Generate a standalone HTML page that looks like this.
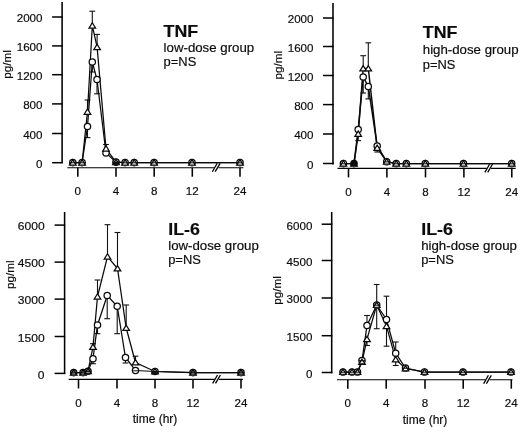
<!DOCTYPE html>
<html><head><meta charset="utf-8"><title>TNF and IL-6</title>
<style>html,body{margin:0;padding:0;background:#fff}svg{display:block;filter:grayscale(1);will-change:transform}text{font-family:"Liberation Sans", sans-serif;fill:#0c0c0c;stroke:#0c0c0c;stroke-width:0.18px}</style>
</head><body>
<svg width="520" height="427" viewBox="0 0 520 427">
<rect width="520" height="427" fill="#fff"/>
<line x1="62.10" y1="2.00" x2="62.10" y2="163.20" stroke="#000" stroke-width="1.55"/>
<line x1="52.10" y1="17.00" x2="62.70" y2="17.00" stroke="#000" stroke-width="1.5"/>
<text x="42.50" y="22.35" font-size="11.6" text-anchor="end" font-weight="normal" >2000</text>
<line x1="52.10" y1="45.90" x2="62.70" y2="45.90" stroke="#000" stroke-width="1.5"/>
<text x="42.50" y="51.25" font-size="11.6" text-anchor="end" font-weight="normal" >1600</text>
<line x1="52.10" y1="74.70" x2="62.70" y2="74.70" stroke="#000" stroke-width="1.5"/>
<text x="42.50" y="80.05" font-size="11.6" text-anchor="end" font-weight="normal" >1200</text>
<line x1="52.10" y1="103.90" x2="62.70" y2="103.90" stroke="#000" stroke-width="1.5"/>
<text x="42.50" y="109.25" font-size="11.6" text-anchor="end" font-weight="normal" >800</text>
<line x1="52.10" y1="133.50" x2="62.70" y2="133.50" stroke="#000" stroke-width="1.5"/>
<text x="42.50" y="138.85" font-size="11.6" text-anchor="end" font-weight="normal" >400</text>
<line x1="52.10" y1="162.70" x2="62.70" y2="162.70" stroke="#000" stroke-width="1.5"/>
<text x="42.50" y="168.05" font-size="11.6" text-anchor="end" font-weight="normal" >0</text>
<text x="11.30" y="64.50" font-size="11.7" text-anchor="middle" font-weight="normal" transform="rotate(-90 11.30 64.50)">pg/ml</text>
<line x1="67.30" y1="167.70" x2="243.40" y2="167.70" stroke="#000" stroke-width="1.15"/>
<line x1="77.80" y1="167.70" x2="77.80" y2="176.70" stroke="#000" stroke-width="1.55"/>
<text x="77.80" y="195.00" font-size="11.6" text-anchor="middle" font-weight="normal" >0</text>
<line x1="116.00" y1="167.70" x2="116.00" y2="176.70" stroke="#000" stroke-width="1.55"/>
<text x="116.00" y="195.00" font-size="11.6" text-anchor="middle" font-weight="normal" >4</text>
<line x1="154.20" y1="167.70" x2="154.20" y2="176.70" stroke="#000" stroke-width="1.55"/>
<text x="154.20" y="195.00" font-size="11.6" text-anchor="middle" font-weight="normal" >8</text>
<line x1="192.30" y1="167.70" x2="192.30" y2="176.70" stroke="#000" stroke-width="1.55"/>
<text x="192.30" y="195.00" font-size="11.6" text-anchor="middle" font-weight="normal" >12</text>
<line x1="240.00" y1="167.70" x2="240.00" y2="176.70" stroke="#000" stroke-width="1.55"/>
<text x="240.00" y="195.00" font-size="11.6" text-anchor="middle" font-weight="normal" >24</text>
<rect x="214.10" y="166.20" width="4.4" height="3" fill="#fff"/>
<line x1="212.40" y1="171.70" x2="217.20" y2="163.30" stroke="#000" stroke-width="1.3"/>
<line x1="215.20" y1="171.70" x2="220.10" y2="163.30" stroke="#000" stroke-width="1.3"/>
<line x1="87.50" y1="111.80" x2="87.50" y2="100.00" stroke="#111" stroke-width="1.1"/>
<line x1="84.60" y1="100.00" x2="90.40" y2="100.00" stroke="#111" stroke-width="1.1"/>
<line x1="87.50" y1="126.50" x2="87.50" y2="137.60" stroke="#111" stroke-width="1.1"/>
<line x1="84.60" y1="137.60" x2="90.40" y2="137.60" stroke="#111" stroke-width="1.1"/>
<line x1="92.30" y1="25.70" x2="92.30" y2="11.20" stroke="#111" stroke-width="1.1"/>
<line x1="89.40" y1="11.20" x2="95.20" y2="11.20" stroke="#111" stroke-width="1.1"/>
<line x1="97.10" y1="47.20" x2="97.10" y2="34.40" stroke="#111" stroke-width="1.1"/>
<line x1="94.20" y1="34.40" x2="100.00" y2="34.40" stroke="#111" stroke-width="1.1"/>
<line x1="97.00" y1="79.50" x2="97.00" y2="93.80" stroke="#111" stroke-width="1.1"/>
<line x1="94.10" y1="93.80" x2="99.90" y2="93.80" stroke="#111" stroke-width="1.1"/>
<line x1="106.00" y1="148.60" x2="106.00" y2="144.50" stroke="#111" stroke-width="1.1"/>
<line x1="103.10" y1="144.50" x2="108.90" y2="144.50" stroke="#111" stroke-width="1.1"/>
<line x1="92.30" y1="62.00" x2="92.30" y2="72.00" stroke="#111" stroke-width="1.1"/>
<line x1="89.40" y1="72.00" x2="95.20" y2="72.00" stroke="#111" stroke-width="1.1"/>
<polyline points="72.80,162.60 82.10,162.60 87.50,111.80 92.30,25.70 97.10,47.20 106.00,148.60 116.00,162.10 125.10,162.60 134.20,162.60 154.10,162.60 192.00,162.60 240.00,162.60" fill="none" stroke="#0a0a0a" stroke-width="1.25"/>
<polyline points="72.80,162.60 82.10,162.60 87.50,126.50 92.30,62.00 97.00,79.50 106.00,153.00 116.00,162.10 125.10,162.60 134.20,162.60 154.10,162.60 192.00,162.60 240.00,162.60" fill="none" stroke="#0a0a0a" stroke-width="1.25"/>
<circle cx="72.80" cy="162.60" r="3.15" fill="#fff" stroke="#0a0a0a" stroke-width="1.25"/>
<circle cx="82.10" cy="162.60" r="3.15" fill="#fff" stroke="#0a0a0a" stroke-width="1.25"/>
<circle cx="87.50" cy="126.50" r="3.15" fill="#fff" stroke="#0a0a0a" stroke-width="1.25"/>
<circle cx="92.30" cy="62.00" r="3.15" fill="#fff" stroke="#0a0a0a" stroke-width="1.25"/>
<circle cx="97.00" cy="79.50" r="3.15" fill="#fff" stroke="#0a0a0a" stroke-width="1.25"/>
<circle cx="106.00" cy="153.00" r="3.15" fill="#fff" stroke="#0a0a0a" stroke-width="1.25"/>
<circle cx="116.00" cy="162.10" r="3.15" fill="#fff" stroke="#0a0a0a" stroke-width="1.25"/>
<circle cx="125.10" cy="162.60" r="3.15" fill="#fff" stroke="#0a0a0a" stroke-width="1.25"/>
<circle cx="134.20" cy="162.60" r="3.15" fill="#fff" stroke="#0a0a0a" stroke-width="1.25"/>
<circle cx="154.10" cy="162.60" r="3.15" fill="#fff" stroke="#0a0a0a" stroke-width="1.25"/>
<circle cx="192.00" cy="162.60" r="3.15" fill="#fff" stroke="#0a0a0a" stroke-width="1.25"/>
<circle cx="240.00" cy="162.60" r="3.15" fill="#fff" stroke="#0a0a0a" stroke-width="1.25"/>
<polygon points="72.80,159.68 69.50,165.08 76.10,165.08" fill="#fff" stroke="#0a0a0a" stroke-width="1.25"/>
<polygon points="82.10,159.68 78.80,165.08 85.40,165.08" fill="#fff" stroke="#0a0a0a" stroke-width="1.25"/>
<polygon points="87.50,108.88 84.20,114.28 90.80,114.28" fill="#fff" stroke="#0a0a0a" stroke-width="1.25"/>
<polygon points="92.30,22.78 89.00,28.18 95.60,28.18" fill="#fff" stroke="#0a0a0a" stroke-width="1.25"/>
<polygon points="97.10,44.28 93.80,49.68 100.40,49.68" fill="#fff" stroke="#0a0a0a" stroke-width="1.25"/>
<polygon points="106.00,145.68 102.70,151.08 109.30,151.08" fill="#fff" stroke="#0a0a0a" stroke-width="1.25"/>
<polygon points="116.00,159.18 112.70,164.58 119.30,164.58" fill="#fff" stroke="#0a0a0a" stroke-width="1.25"/>
<polygon points="125.10,159.68 121.80,165.08 128.40,165.08" fill="#fff" stroke="#0a0a0a" stroke-width="1.25"/>
<polygon points="134.20,159.68 130.90,165.08 137.50,165.08" fill="#fff" stroke="#0a0a0a" stroke-width="1.25"/>
<polygon points="154.10,159.68 150.80,165.08 157.40,165.08" fill="#fff" stroke="#0a0a0a" stroke-width="1.25"/>
<polygon points="192.00,159.68 188.70,165.08 195.30,165.08" fill="#fff" stroke="#0a0a0a" stroke-width="1.25"/>
<polygon points="240.00,159.68 236.70,165.08 243.30,165.08" fill="#fff" stroke="#0a0a0a" stroke-width="1.25"/>
<line x1="69.50" y1="162.80" x2="76.10" y2="162.80" stroke="#0a0a0a" stroke-width="1.0"/>
<line x1="70.60" y1="165.50" x2="75.00" y2="165.50" stroke="#333" stroke-width="1.0"/>
<line x1="78.80" y1="162.80" x2="85.40" y2="162.80" stroke="#0a0a0a" stroke-width="1.0"/>
<line x1="79.90" y1="165.50" x2="84.30" y2="165.50" stroke="#333" stroke-width="1.0"/>
<line x1="112.70" y1="162.30" x2="119.30" y2="162.30" stroke="#0a0a0a" stroke-width="1.0"/>
<line x1="113.80" y1="165.00" x2="118.20" y2="165.00" stroke="#333" stroke-width="1.0"/>
<path d="M112.85,162.10 A3.15,3.15 0 0 0 119.15,162.10 Z" fill="#111" stroke="#111" stroke-width="1"/>
<line x1="121.80" y1="162.80" x2="128.40" y2="162.80" stroke="#0a0a0a" stroke-width="1.0"/>
<line x1="122.90" y1="165.50" x2="127.30" y2="165.50" stroke="#333" stroke-width="1.0"/>
<line x1="130.90" y1="162.80" x2="137.50" y2="162.80" stroke="#0a0a0a" stroke-width="1.0"/>
<line x1="132.00" y1="165.50" x2="136.40" y2="165.50" stroke="#333" stroke-width="1.0"/>
<line x1="150.80" y1="162.80" x2="157.40" y2="162.80" stroke="#0a0a0a" stroke-width="1.0"/>
<line x1="151.90" y1="165.50" x2="156.30" y2="165.50" stroke="#333" stroke-width="1.0"/>
<line x1="188.70" y1="162.80" x2="195.30" y2="162.80" stroke="#0a0a0a" stroke-width="1.0"/>
<line x1="189.80" y1="165.50" x2="194.20" y2="165.50" stroke="#333" stroke-width="1.0"/>
<line x1="236.70" y1="162.80" x2="243.30" y2="162.80" stroke="#0a0a0a" stroke-width="1.0"/>
<line x1="237.80" y1="165.50" x2="242.20" y2="165.50" stroke="#333" stroke-width="1.0"/>
<text x="163.60" y="36.80" font-size="17" text-anchor="start" font-weight="bold" textLength="34.60" lengthAdjust="spacingAndGlyphs" >TNF</text>
<text x="163.60" y="51.80" font-size="12.3" text-anchor="start" font-weight="normal" textLength="90.58" lengthAdjust="spacingAndGlyphs" >low-dose group</text>
<text x="163.60" y="65.50" font-size="12.3" text-anchor="start" font-weight="normal" textLength="32.67" lengthAdjust="spacingAndGlyphs" >p=NS</text>
<line x1="333.00" y1="3.00" x2="333.00" y2="164.40" stroke="#000" stroke-width="1.55"/>
<line x1="323.00" y1="18.00" x2="333.60" y2="18.00" stroke="#000" stroke-width="1.5"/>
<text x="313.50" y="23.35" font-size="11.6" text-anchor="end" font-weight="normal" >2000</text>
<line x1="323.00" y1="46.50" x2="333.60" y2="46.50" stroke="#000" stroke-width="1.5"/>
<text x="313.50" y="51.85" font-size="11.6" text-anchor="end" font-weight="normal" >1600</text>
<line x1="323.00" y1="75.50" x2="333.60" y2="75.50" stroke="#000" stroke-width="1.5"/>
<text x="313.50" y="80.85" font-size="11.6" text-anchor="end" font-weight="normal" >1200</text>
<line x1="323.00" y1="104.60" x2="333.60" y2="104.60" stroke="#000" stroke-width="1.5"/>
<text x="313.50" y="109.95" font-size="11.6" text-anchor="end" font-weight="normal" >800</text>
<line x1="323.00" y1="134.00" x2="333.60" y2="134.00" stroke="#000" stroke-width="1.5"/>
<text x="313.50" y="139.35" font-size="11.6" text-anchor="end" font-weight="normal" >400</text>
<line x1="323.00" y1="163.50" x2="333.60" y2="163.50" stroke="#000" stroke-width="1.5"/>
<text x="313.50" y="168.85" font-size="11.6" text-anchor="end" font-weight="normal" >0</text>
<text x="282.20" y="65.20" font-size="11.7" text-anchor="middle" font-weight="normal" transform="rotate(-90 282.20 65.20)">pg/ml</text>
<line x1="337.50" y1="168.40" x2="515.60" y2="168.40" stroke="#000" stroke-width="1.15"/>
<line x1="348.50" y1="168.40" x2="348.50" y2="177.40" stroke="#000" stroke-width="1.55"/>
<text x="348.50" y="195.50" font-size="11.6" text-anchor="middle" font-weight="normal" >0</text>
<line x1="386.90" y1="168.40" x2="386.90" y2="177.40" stroke="#000" stroke-width="1.55"/>
<text x="386.90" y="195.50" font-size="11.6" text-anchor="middle" font-weight="normal" >4</text>
<line x1="425.50" y1="168.40" x2="425.50" y2="177.40" stroke="#000" stroke-width="1.55"/>
<text x="425.50" y="195.50" font-size="11.6" text-anchor="middle" font-weight="normal" >8</text>
<line x1="463.90" y1="168.40" x2="463.90" y2="177.40" stroke="#000" stroke-width="1.55"/>
<text x="463.90" y="195.50" font-size="11.6" text-anchor="middle" font-weight="normal" >12</text>
<line x1="511.80" y1="168.40" x2="511.80" y2="177.40" stroke="#000" stroke-width="1.55"/>
<text x="511.80" y="195.50" font-size="11.6" text-anchor="middle" font-weight="normal" >24</text>
<rect x="486.60" y="166.90" width="4.4" height="3" fill="#fff"/>
<line x1="484.90" y1="172.40" x2="489.70" y2="164.00" stroke="#000" stroke-width="1.3"/>
<line x1="487.70" y1="172.40" x2="492.60" y2="164.00" stroke="#000" stroke-width="1.3"/>
<line x1="358.20" y1="133.90" x2="358.20" y2="140.60" stroke="#111" stroke-width="1.1"/>
<line x1="355.30" y1="140.60" x2="361.10" y2="140.60" stroke="#111" stroke-width="1.1"/>
<line x1="363.20" y1="68.50" x2="363.20" y2="55.70" stroke="#111" stroke-width="1.1"/>
<line x1="360.30" y1="55.70" x2="366.10" y2="55.70" stroke="#111" stroke-width="1.1"/>
<line x1="368.30" y1="68.50" x2="368.30" y2="42.80" stroke="#111" stroke-width="1.1"/>
<line x1="365.40" y1="42.80" x2="371.20" y2="42.80" stroke="#111" stroke-width="1.1"/>
<line x1="368.30" y1="86.60" x2="368.30" y2="98.90" stroke="#111" stroke-width="1.1"/>
<line x1="365.40" y1="98.90" x2="371.20" y2="98.90" stroke="#111" stroke-width="1.1"/>
<line x1="363.20" y1="77.00" x2="363.20" y2="93.00" stroke="#111" stroke-width="1.1"/>
<line x1="360.30" y1="93.00" x2="366.10" y2="93.00" stroke="#111" stroke-width="1.1"/>
<line x1="377.20" y1="148.00" x2="377.20" y2="152.00" stroke="#111" stroke-width="1.1"/>
<line x1="374.30" y1="152.00" x2="380.10" y2="152.00" stroke="#111" stroke-width="1.1"/>
<polyline points="343.40,163.60 354.00,163.60 358.20,133.90 363.20,68.50 368.30,68.50 377.20,148.00 386.70,161.70 396.20,163.60 406.30,163.60 425.30,163.60 463.50,163.60 511.70,163.60" fill="none" stroke="#0a0a0a" stroke-width="1.45"/>
<polyline points="343.40,163.60 354.00,163.60 358.20,129.50 363.20,77.00 368.30,86.60 377.20,145.90 386.70,161.70 396.20,163.60 406.30,163.60 425.30,163.60 463.50,163.60 511.70,163.60" fill="none" stroke="#0a0a0a" stroke-width="1.45"/>
<circle cx="343.40" cy="163.60" r="3.15" fill="#fff" stroke="#0a0a0a" stroke-width="1.25"/>
<circle cx="354.00" cy="163.60" r="3.15" fill="#1a1a1a" stroke="#0a0a0a" stroke-width="1.25"/>
<circle cx="358.20" cy="129.50" r="3.15" fill="#fff" stroke="#0a0a0a" stroke-width="1.25"/>
<circle cx="363.20" cy="77.00" r="3.15" fill="#fff" stroke="#0a0a0a" stroke-width="1.25"/>
<circle cx="368.30" cy="86.60" r="3.15" fill="#fff" stroke="#0a0a0a" stroke-width="1.25"/>
<circle cx="377.20" cy="145.90" r="3.15" fill="#fff" stroke="#0a0a0a" stroke-width="1.25"/>
<circle cx="386.70" cy="161.70" r="3.15" fill="#fff" stroke="#0a0a0a" stroke-width="1.25"/>
<circle cx="396.20" cy="163.60" r="3.15" fill="#fff" stroke="#0a0a0a" stroke-width="1.25"/>
<circle cx="406.30" cy="163.60" r="3.15" fill="#fff" stroke="#0a0a0a" stroke-width="1.25"/>
<circle cx="425.30" cy="163.60" r="3.15" fill="#fff" stroke="#0a0a0a" stroke-width="1.25"/>
<circle cx="463.50" cy="163.60" r="3.15" fill="#fff" stroke="#0a0a0a" stroke-width="1.25"/>
<circle cx="511.70" cy="163.60" r="3.15" fill="#fff" stroke="#0a0a0a" stroke-width="1.25"/>
<polygon points="343.40,160.68 340.10,166.08 346.70,166.08" fill="#fff" stroke="#0a0a0a" stroke-width="1.25"/>
<polygon points="354.00,160.68 350.70,166.08 357.30,166.08" fill="none" stroke="#0a0a0a" stroke-width="1.25"/>
<polygon points="358.20,130.98 354.90,136.38 361.50,136.38" fill="#fff" stroke="#0a0a0a" stroke-width="1.25"/>
<polygon points="363.20,65.58 359.90,70.98 366.50,70.98" fill="#fff" stroke="#0a0a0a" stroke-width="1.25"/>
<polygon points="368.30,65.58 365.00,70.98 371.60,70.98" fill="#fff" stroke="#0a0a0a" stroke-width="1.25"/>
<polygon points="377.20,145.08 373.90,150.48 380.50,150.48" fill="#fff" stroke="#0a0a0a" stroke-width="1.25"/>
<polygon points="386.70,158.78 383.40,164.18 390.00,164.18" fill="#fff" stroke="#0a0a0a" stroke-width="1.25"/>
<polygon points="396.20,160.68 392.90,166.08 399.50,166.08" fill="#fff" stroke="#0a0a0a" stroke-width="1.25"/>
<polygon points="406.30,160.68 403.00,166.08 409.60,166.08" fill="#fff" stroke="#0a0a0a" stroke-width="1.25"/>
<polygon points="425.30,160.68 422.00,166.08 428.60,166.08" fill="#fff" stroke="#0a0a0a" stroke-width="1.25"/>
<polygon points="463.50,160.68 460.20,166.08 466.80,166.08" fill="#fff" stroke="#0a0a0a" stroke-width="1.25"/>
<polygon points="511.70,160.68 508.40,166.08 515.00,166.08" fill="#fff" stroke="#0a0a0a" stroke-width="1.25"/>
<line x1="340.10" y1="163.80" x2="346.70" y2="163.80" stroke="#0a0a0a" stroke-width="1.0"/>
<line x1="341.20" y1="166.50" x2="345.60" y2="166.50" stroke="#333" stroke-width="1.0"/>
<line x1="350.70" y1="163.80" x2="357.30" y2="163.80" stroke="#0a0a0a" stroke-width="1.0"/>
<line x1="351.80" y1="166.50" x2="356.20" y2="166.50" stroke="#333" stroke-width="1.0"/>
<line x1="383.40" y1="161.90" x2="390.00" y2="161.90" stroke="#0a0a0a" stroke-width="1.0"/>
<line x1="384.50" y1="164.60" x2="388.90" y2="164.60" stroke="#333" stroke-width="1.0"/>
<line x1="392.90" y1="163.80" x2="399.50" y2="163.80" stroke="#0a0a0a" stroke-width="1.0"/>
<line x1="394.00" y1="166.50" x2="398.40" y2="166.50" stroke="#333" stroke-width="1.0"/>
<line x1="403.00" y1="163.80" x2="409.60" y2="163.80" stroke="#0a0a0a" stroke-width="1.0"/>
<line x1="404.10" y1="166.50" x2="408.50" y2="166.50" stroke="#333" stroke-width="1.0"/>
<line x1="422.00" y1="163.80" x2="428.60" y2="163.80" stroke="#0a0a0a" stroke-width="1.0"/>
<line x1="423.10" y1="166.50" x2="427.50" y2="166.50" stroke="#333" stroke-width="1.0"/>
<line x1="460.20" y1="163.80" x2="466.80" y2="163.80" stroke="#0a0a0a" stroke-width="1.0"/>
<line x1="461.30" y1="166.50" x2="465.70" y2="166.50" stroke="#333" stroke-width="1.0"/>
<line x1="508.40" y1="163.80" x2="515.00" y2="163.80" stroke="#0a0a0a" stroke-width="1.0"/>
<line x1="509.50" y1="166.50" x2="513.90" y2="166.50" stroke="#333" stroke-width="1.0"/>
<text x="422.80" y="38.00" font-size="17" text-anchor="start" font-weight="bold" textLength="34.60" lengthAdjust="spacingAndGlyphs" >TNF</text>
<text x="422.80" y="53.80" font-size="12.3" text-anchor="start" font-weight="normal" textLength="95.75" lengthAdjust="spacingAndGlyphs" >high-dose group</text>
<text x="422.80" y="68.50" font-size="12.3" text-anchor="start" font-weight="normal" textLength="32.67" lengthAdjust="spacingAndGlyphs" >p=NS</text>
<line x1="64.60" y1="212.00" x2="64.60" y2="374.10" stroke="#000" stroke-width="1.55"/>
<line x1="54.60" y1="225.10" x2="65.20" y2="225.10" stroke="#000" stroke-width="1.5"/>
<text x="44.60" y="230.45" font-size="11.6" text-anchor="end" font-weight="normal" textLength="26.84" lengthAdjust="spacingAndGlyphs" >6000</text>
<line x1="54.60" y1="262.10" x2="65.20" y2="262.10" stroke="#000" stroke-width="1.5"/>
<text x="44.60" y="267.45" font-size="11.6" text-anchor="end" font-weight="normal" textLength="26.84" lengthAdjust="spacingAndGlyphs" >4500</text>
<line x1="54.60" y1="299.10" x2="65.20" y2="299.10" stroke="#000" stroke-width="1.5"/>
<text x="44.60" y="304.45" font-size="11.6" text-anchor="end" font-weight="normal" textLength="26.84" lengthAdjust="spacingAndGlyphs" >3000</text>
<line x1="54.60" y1="336.50" x2="65.20" y2="336.50" stroke="#000" stroke-width="1.5"/>
<text x="44.60" y="341.85" font-size="11.6" text-anchor="end" font-weight="normal" textLength="26.84" lengthAdjust="spacingAndGlyphs" >1500</text>
<line x1="54.60" y1="373.40" x2="65.20" y2="373.40" stroke="#000" stroke-width="1.5"/>
<text x="44.60" y="378.75" font-size="11.6" text-anchor="end" font-weight="normal" textLength="6.71" lengthAdjust="spacingAndGlyphs" >0</text>
<text x="14.40" y="274.80" font-size="11.7" text-anchor="middle" font-weight="normal" transform="rotate(-90 14.40 274.80)">pg/ml</text>
<line x1="68.70" y1="379.40" x2="242.80" y2="379.40" stroke="#000" stroke-width="1.15"/>
<line x1="78.50" y1="379.40" x2="78.50" y2="388.40" stroke="#000" stroke-width="1.55"/>
<text x="78.50" y="406.50" font-size="11.6" text-anchor="middle" font-weight="normal" >0</text>
<line x1="117.00" y1="379.40" x2="117.00" y2="388.40" stroke="#000" stroke-width="1.55"/>
<text x="117.00" y="406.50" font-size="11.6" text-anchor="middle" font-weight="normal" >4</text>
<line x1="155.00" y1="379.40" x2="155.00" y2="388.40" stroke="#000" stroke-width="1.55"/>
<text x="155.00" y="406.50" font-size="11.6" text-anchor="middle" font-weight="normal" >8</text>
<line x1="193.00" y1="379.40" x2="193.00" y2="388.40" stroke="#000" stroke-width="1.55"/>
<text x="193.00" y="406.50" font-size="11.6" text-anchor="middle" font-weight="normal" >12</text>
<line x1="241.00" y1="379.40" x2="241.00" y2="388.40" stroke="#000" stroke-width="1.55"/>
<text x="241.00" y="406.50" font-size="11.6" text-anchor="middle" font-weight="normal" >24</text>
<rect x="214.40" y="377.90" width="4.4" height="3" fill="#fff"/>
<line x1="212.70" y1="383.40" x2="217.50" y2="375.00" stroke="#000" stroke-width="1.3"/>
<line x1="215.50" y1="383.40" x2="220.40" y2="375.00" stroke="#000" stroke-width="1.3"/>
<line x1="97.50" y1="296.70" x2="97.50" y2="280.00" stroke="#111" stroke-width="1.1"/>
<line x1="94.60" y1="280.00" x2="100.40" y2="280.00" stroke="#111" stroke-width="1.1"/>
<line x1="107.50" y1="256.70" x2="107.50" y2="224.70" stroke="#111" stroke-width="1.1"/>
<line x1="104.60" y1="224.70" x2="110.40" y2="224.70" stroke="#111" stroke-width="1.1"/>
<line x1="117.50" y1="268.50" x2="117.50" y2="232.50" stroke="#111" stroke-width="1.1"/>
<line x1="114.60" y1="232.50" x2="120.40" y2="232.50" stroke="#111" stroke-width="1.1"/>
<line x1="126.20" y1="328.00" x2="126.20" y2="305.00" stroke="#111" stroke-width="1.1"/>
<line x1="123.30" y1="305.00" x2="129.10" y2="305.00" stroke="#111" stroke-width="1.1"/>
<line x1="135.50" y1="362.50" x2="135.50" y2="356.20" stroke="#111" stroke-width="1.1"/>
<line x1="132.60" y1="356.20" x2="138.40" y2="356.20" stroke="#111" stroke-width="1.1"/>
<line x1="93.00" y1="347.00" x2="93.00" y2="343.70" stroke="#111" stroke-width="1.1"/>
<line x1="90.10" y1="343.70" x2="95.90" y2="343.70" stroke="#111" stroke-width="1.1"/>
<line x1="97.50" y1="325.00" x2="97.50" y2="333.70" stroke="#111" stroke-width="1.1"/>
<line x1="94.60" y1="333.70" x2="100.40" y2="333.70" stroke="#111" stroke-width="1.1"/>
<line x1="107.20" y1="295.50" x2="107.20" y2="318.70" stroke="#111" stroke-width="1.1"/>
<line x1="104.30" y1="318.70" x2="110.10" y2="318.70" stroke="#111" stroke-width="1.1"/>
<line x1="117.20" y1="306.20" x2="117.20" y2="333.70" stroke="#111" stroke-width="1.1"/>
<line x1="114.30" y1="333.70" x2="120.10" y2="333.70" stroke="#111" stroke-width="1.1"/>
<line x1="125.50" y1="357.50" x2="125.50" y2="363.00" stroke="#111" stroke-width="1.1"/>
<line x1="122.60" y1="363.00" x2="128.40" y2="363.00" stroke="#111" stroke-width="1.1"/>
<line x1="93.00" y1="358.70" x2="93.00" y2="363.70" stroke="#111" stroke-width="1.1"/>
<line x1="90.10" y1="363.70" x2="95.90" y2="363.70" stroke="#111" stroke-width="1.1"/>
<polyline points="73.70,372.60 83.00,372.60 88.00,371.20 93.00,347.00 97.50,296.70 107.50,256.70 117.50,268.50 126.20,328.00 135.50,362.50 155.00,371.50 193.00,372.60 241.00,372.60" fill="none" stroke="#0a0a0a" stroke-width="1.25"/>
<polyline points="73.70,372.60 83.00,372.60 88.00,371.20 93.00,358.70 97.50,325.00 107.20,295.50 117.20,306.20 125.50,357.50 135.50,370.50 155.00,371.50 193.00,372.60 241.00,372.60" fill="none" stroke="#0a0a0a" stroke-width="1.25"/>
<circle cx="73.70" cy="372.60" r="3.15" fill="#8c8c8c" stroke="#0a0a0a" stroke-width="1.25"/>
<circle cx="83.00" cy="372.60" r="3.15" fill="#8c8c8c" stroke="#0a0a0a" stroke-width="1.25"/>
<circle cx="88.00" cy="371.20" r="3.15" fill="#8c8c8c" stroke="#0a0a0a" stroke-width="1.25"/>
<circle cx="93.00" cy="358.70" r="3.15" fill="#fff" stroke="#0a0a0a" stroke-width="1.25"/>
<circle cx="97.50" cy="325.00" r="3.15" fill="#fff" stroke="#0a0a0a" stroke-width="1.25"/>
<circle cx="107.20" cy="295.50" r="3.15" fill="#fff" stroke="#0a0a0a" stroke-width="1.25"/>
<circle cx="117.20" cy="306.20" r="3.15" fill="#fff" stroke="#0a0a0a" stroke-width="1.25"/>
<circle cx="125.50" cy="357.50" r="3.15" fill="#fff" stroke="#0a0a0a" stroke-width="1.25"/>
<circle cx="135.50" cy="370.50" r="3.15" fill="#fff" stroke="#0a0a0a" stroke-width="1.25"/>
<circle cx="155.00" cy="371.50" r="3.15" fill="#fff" stroke="#0a0a0a" stroke-width="1.25"/>
<circle cx="193.00" cy="372.60" r="3.15" fill="#8c8c8c" stroke="#0a0a0a" stroke-width="1.25"/>
<circle cx="241.00" cy="372.60" r="3.15" fill="#8c8c8c" stroke="#0a0a0a" stroke-width="1.25"/>
<polygon points="73.70,369.68 70.40,375.08 77.00,375.08" fill="none" stroke="#0a0a0a" stroke-width="1.25"/>
<polygon points="83.00,369.68 79.70,375.08 86.30,375.08" fill="none" stroke="#0a0a0a" stroke-width="1.25"/>
<polygon points="88.00,368.28 84.70,373.68 91.30,373.68" fill="none" stroke="#0a0a0a" stroke-width="1.25"/>
<polygon points="93.00,344.08 89.70,349.48 96.30,349.48" fill="#fff" stroke="#0a0a0a" stroke-width="1.25"/>
<polygon points="97.50,293.78 94.20,299.18 100.80,299.18" fill="#fff" stroke="#0a0a0a" stroke-width="1.25"/>
<polygon points="107.50,253.78 104.20,259.18 110.80,259.18" fill="#fff" stroke="#0a0a0a" stroke-width="1.25"/>
<polygon points="117.50,265.58 114.20,270.98 120.80,270.98" fill="#fff" stroke="#0a0a0a" stroke-width="1.25"/>
<polygon points="126.20,325.08 122.90,330.48 129.50,330.48" fill="#fff" stroke="#0a0a0a" stroke-width="1.25"/>
<polygon points="135.50,359.58 132.20,364.98 138.80,364.98" fill="#fff" stroke="#0a0a0a" stroke-width="1.25"/>
<polygon points="155.00,368.58 151.70,373.98 158.30,373.98" fill="#fff" stroke="#0a0a0a" stroke-width="1.25"/>
<polygon points="193.00,369.68 189.70,375.08 196.30,375.08" fill="none" stroke="#0a0a0a" stroke-width="1.25"/>
<polygon points="241.00,369.68 237.70,375.08 244.30,375.08" fill="none" stroke="#0a0a0a" stroke-width="1.25"/>
<line x1="70.40" y1="372.80" x2="77.00" y2="372.80" stroke="#0a0a0a" stroke-width="1.0"/>
<line x1="71.50" y1="375.50" x2="75.90" y2="375.50" stroke="#333" stroke-width="1.0"/>
<line x1="79.70" y1="372.80" x2="86.30" y2="372.80" stroke="#0a0a0a" stroke-width="1.0"/>
<line x1="80.80" y1="375.50" x2="85.20" y2="375.50" stroke="#333" stroke-width="1.0"/>
<line x1="84.70" y1="371.40" x2="91.30" y2="371.40" stroke="#0a0a0a" stroke-width="1.0"/>
<line x1="85.80" y1="374.10" x2="90.20" y2="374.10" stroke="#333" stroke-width="1.0"/>
<line x1="132.30" y1="370.80" x2="138.70" y2="370.80" stroke="#0a0a0a" stroke-width="1.0"/>
<line x1="151.70" y1="371.70" x2="158.30" y2="371.70" stroke="#0a0a0a" stroke-width="1.0"/>
<line x1="152.80" y1="374.40" x2="157.20" y2="374.40" stroke="#333" stroke-width="1.0"/>
<path d="M151.85,371.50 A3.15,3.15 0 0 0 158.15,371.50 Z" fill="#111" stroke="#111" stroke-width="1"/>
<line x1="189.70" y1="372.80" x2="196.30" y2="372.80" stroke="#0a0a0a" stroke-width="1.0"/>
<line x1="190.80" y1="375.50" x2="195.20" y2="375.50" stroke="#333" stroke-width="1.0"/>
<line x1="237.70" y1="372.80" x2="244.30" y2="372.80" stroke="#0a0a0a" stroke-width="1.0"/>
<line x1="238.80" y1="375.50" x2="243.20" y2="375.50" stroke="#333" stroke-width="1.0"/>
<text x="168.20" y="234.60" font-size="17" text-anchor="start" font-weight="bold" textLength="31.64" lengthAdjust="spacingAndGlyphs" >IL-6</text>
<text x="168.20" y="249.70" font-size="12.3" text-anchor="start" font-weight="normal" textLength="90.58" lengthAdjust="spacingAndGlyphs" >low-dose group</text>
<text x="168.20" y="263.80" font-size="12.3" text-anchor="start" font-weight="normal" textLength="32.67" lengthAdjust="spacingAndGlyphs" >p=NS</text>
<text x="155.00" y="422.90" font-size="12" text-anchor="middle" font-weight="normal" >time (hr)</text>
<line x1="331.70" y1="212.00" x2="331.70" y2="373.40" stroke="#000" stroke-width="1.55"/>
<line x1="321.70" y1="224.20" x2="332.30" y2="224.20" stroke="#000" stroke-width="1.5"/>
<text x="312.40" y="229.55" font-size="11.6" text-anchor="end" font-weight="normal" >6000</text>
<line x1="321.70" y1="260.50" x2="332.30" y2="260.50" stroke="#000" stroke-width="1.5"/>
<text x="312.40" y="265.85" font-size="11.6" text-anchor="end" font-weight="normal" >4500</text>
<line x1="321.70" y1="298.00" x2="332.30" y2="298.00" stroke="#000" stroke-width="1.5"/>
<text x="312.40" y="303.35" font-size="11.6" text-anchor="end" font-weight="normal" >3000</text>
<line x1="321.70" y1="335.70" x2="332.30" y2="335.70" stroke="#000" stroke-width="1.5"/>
<text x="312.40" y="341.05" font-size="11.6" text-anchor="end" font-weight="normal" >1500</text>
<line x1="321.70" y1="372.50" x2="332.30" y2="372.50" stroke="#000" stroke-width="1.5"/>
<text x="312.40" y="377.85" font-size="11.6" text-anchor="end" font-weight="normal" >0</text>
<text x="281.40" y="290.50" font-size="11.7" text-anchor="middle" font-weight="normal" transform="rotate(-90 281.40 290.50)">pg/ml</text>
<line x1="337.00" y1="379.70" x2="512.50" y2="379.70" stroke="#000" stroke-width="1.15"/>
<line x1="347.80" y1="379.70" x2="347.80" y2="388.70" stroke="#000" stroke-width="1.55"/>
<text x="347.80" y="407.40" font-size="11.6" text-anchor="middle" font-weight="normal" >0</text>
<line x1="386.20" y1="379.70" x2="386.20" y2="388.70" stroke="#000" stroke-width="1.55"/>
<text x="386.20" y="407.40" font-size="11.6" text-anchor="middle" font-weight="normal" >4</text>
<line x1="425.00" y1="379.70" x2="425.00" y2="388.70" stroke="#000" stroke-width="1.55"/>
<text x="425.00" y="407.40" font-size="11.6" text-anchor="middle" font-weight="normal" >8</text>
<line x1="463.20" y1="379.70" x2="463.20" y2="388.70" stroke="#000" stroke-width="1.55"/>
<text x="463.20" y="407.40" font-size="11.6" text-anchor="middle" font-weight="normal" >12</text>
<line x1="511.30" y1="379.70" x2="511.30" y2="388.70" stroke="#000" stroke-width="1.55"/>
<text x="511.30" y="407.40" font-size="11.6" text-anchor="middle" font-weight="normal" >24</text>
<rect x="485.30" y="378.20" width="4.4" height="3" fill="#fff"/>
<line x1="483.60" y1="383.70" x2="488.40" y2="375.30" stroke="#000" stroke-width="1.3"/>
<line x1="486.40" y1="383.70" x2="491.30" y2="375.30" stroke="#000" stroke-width="1.3"/>
<line x1="376.70" y1="305.00" x2="376.70" y2="284.50" stroke="#111" stroke-width="1.1"/>
<line x1="373.80" y1="284.50" x2="379.60" y2="284.50" stroke="#111" stroke-width="1.1"/>
<line x1="376.70" y1="305.00" x2="376.70" y2="328.70" stroke="#111" stroke-width="1.1"/>
<line x1="373.80" y1="328.70" x2="379.60" y2="328.70" stroke="#111" stroke-width="1.1"/>
<line x1="386.50" y1="319.50" x2="386.50" y2="296.20" stroke="#111" stroke-width="1.1"/>
<line x1="383.60" y1="296.20" x2="389.40" y2="296.20" stroke="#111" stroke-width="1.1"/>
<line x1="386.50" y1="326.20" x2="386.50" y2="346.20" stroke="#111" stroke-width="1.1"/>
<line x1="383.60" y1="346.20" x2="389.40" y2="346.20" stroke="#111" stroke-width="1.1"/>
<line x1="367.00" y1="325.50" x2="367.00" y2="315.50" stroke="#111" stroke-width="1.1"/>
<line x1="364.10" y1="315.50" x2="369.90" y2="315.50" stroke="#111" stroke-width="1.1"/>
<line x1="367.00" y1="339.20" x2="367.00" y2="345.50" stroke="#111" stroke-width="1.1"/>
<line x1="364.10" y1="345.50" x2="369.90" y2="345.50" stroke="#111" stroke-width="1.1"/>
<line x1="395.70" y1="353.20" x2="395.70" y2="342.00" stroke="#111" stroke-width="1.1"/>
<line x1="392.80" y1="342.00" x2="398.60" y2="342.00" stroke="#111" stroke-width="1.1"/>
<line x1="395.70" y1="359.50" x2="395.70" y2="365.50" stroke="#111" stroke-width="1.1"/>
<line x1="392.80" y1="365.50" x2="398.60" y2="365.50" stroke="#111" stroke-width="1.1"/>
<polyline points="343.00,372.00 352.00,372.00 357.50,372.00 362.00,362.00 367.00,339.20 376.70,305.00 386.50,326.20 395.70,359.50 405.50,368.50 424.50,372.00 463.00,372.00 511.00,372.00" fill="none" stroke="#0a0a0a" stroke-width="1.25"/>
<polyline points="343.00,372.00 352.00,372.00 357.50,372.00 362.00,360.50 367.00,325.50 376.70,305.00 386.50,319.50 395.70,353.20 405.50,368.00 424.50,372.00 463.00,372.00 511.00,372.00" fill="none" stroke="#0a0a0a" stroke-width="1.25"/>
<circle cx="343.00" cy="372.00" r="3.15" fill="#fff" stroke="#0a0a0a" stroke-width="1.25"/>
<circle cx="352.00" cy="372.00" r="3.15" fill="#fff" stroke="#0a0a0a" stroke-width="1.25"/>
<circle cx="357.50" cy="372.00" r="3.15" fill="#fff" stroke="#0a0a0a" stroke-width="1.25"/>
<circle cx="362.00" cy="360.50" r="3.15" fill="#fff" stroke="#0a0a0a" stroke-width="1.25"/>
<circle cx="367.00" cy="325.50" r="3.15" fill="#fff" stroke="#0a0a0a" stroke-width="1.25"/>
<circle cx="376.70" cy="305.00" r="3.15" fill="#fff" stroke="#0a0a0a" stroke-width="1.25"/>
<circle cx="386.50" cy="319.50" r="3.15" fill="#fff" stroke="#0a0a0a" stroke-width="1.25"/>
<circle cx="395.70" cy="353.20" r="3.15" fill="#fff" stroke="#0a0a0a" stroke-width="1.25"/>
<circle cx="405.50" cy="368.00" r="3.15" fill="#fff" stroke="#0a0a0a" stroke-width="1.25"/>
<circle cx="424.50" cy="372.00" r="3.15" fill="#fff" stroke="#0a0a0a" stroke-width="1.25"/>
<circle cx="463.00" cy="372.00" r="3.15" fill="#fff" stroke="#0a0a0a" stroke-width="1.25"/>
<circle cx="511.00" cy="372.00" r="3.15" fill="#fff" stroke="#0a0a0a" stroke-width="1.25"/>
<polygon points="343.00,369.08 339.70,374.48 346.30,374.48" fill="#fff" stroke="#0a0a0a" stroke-width="1.25"/>
<polygon points="352.00,369.08 348.70,374.48 355.30,374.48" fill="#fff" stroke="#0a0a0a" stroke-width="1.25"/>
<polygon points="357.50,369.08 354.20,374.48 360.80,374.48" fill="#fff" stroke="#0a0a0a" stroke-width="1.25"/>
<polygon points="362.00,359.08 358.70,364.48 365.30,364.48" fill="#fff" stroke="#0a0a0a" stroke-width="1.25"/>
<polygon points="367.00,336.28 363.70,341.68 370.30,341.68" fill="#fff" stroke="#0a0a0a" stroke-width="1.25"/>
<polygon points="376.70,302.08 373.40,307.48 380.00,307.48" fill="#fff" stroke="#0a0a0a" stroke-width="1.25"/>
<polygon points="386.50,323.28 383.20,328.68 389.80,328.68" fill="#fff" stroke="#0a0a0a" stroke-width="1.25"/>
<polygon points="395.70,356.58 392.40,361.98 399.00,361.98" fill="#fff" stroke="#0a0a0a" stroke-width="1.25"/>
<polygon points="405.50,365.58 402.20,370.98 408.80,370.98" fill="#fff" stroke="#0a0a0a" stroke-width="1.25"/>
<polygon points="424.50,369.08 421.20,374.48 427.80,374.48" fill="#fff" stroke="#0a0a0a" stroke-width="1.25"/>
<polygon points="463.00,369.08 459.70,374.48 466.30,374.48" fill="#fff" stroke="#0a0a0a" stroke-width="1.25"/>
<polygon points="511.00,369.08 507.70,374.48 514.30,374.48" fill="#fff" stroke="#0a0a0a" stroke-width="1.25"/>
<line x1="339.70" y1="372.20" x2="346.30" y2="372.20" stroke="#0a0a0a" stroke-width="1.0"/>
<line x1="340.80" y1="374.90" x2="345.20" y2="374.90" stroke="#333" stroke-width="1.0"/>
<line x1="348.70" y1="372.20" x2="355.30" y2="372.20" stroke="#0a0a0a" stroke-width="1.0"/>
<line x1="349.80" y1="374.90" x2="354.20" y2="374.90" stroke="#333" stroke-width="1.0"/>
<line x1="354.20" y1="372.20" x2="360.80" y2="372.20" stroke="#0a0a0a" stroke-width="1.0"/>
<line x1="355.30" y1="374.90" x2="359.70" y2="374.90" stroke="#333" stroke-width="1.0"/>
<line x1="358.70" y1="360.70" x2="365.30" y2="360.70" stroke="#0a0a0a" stroke-width="1.0"/>
<line x1="359.80" y1="363.40" x2="364.20" y2="363.40" stroke="#333" stroke-width="1.0"/>
<line x1="373.40" y1="305.20" x2="380.00" y2="305.20" stroke="#0a0a0a" stroke-width="1.0"/>
<line x1="374.50" y1="307.90" x2="378.90" y2="307.90" stroke="#333" stroke-width="1.0"/>
<line x1="402.20" y1="368.20" x2="408.80" y2="368.20" stroke="#0a0a0a" stroke-width="1.0"/>
<line x1="403.30" y1="370.90" x2="407.70" y2="370.90" stroke="#333" stroke-width="1.0"/>
<line x1="421.20" y1="372.20" x2="427.80" y2="372.20" stroke="#0a0a0a" stroke-width="1.0"/>
<line x1="422.30" y1="374.90" x2="426.70" y2="374.90" stroke="#333" stroke-width="1.0"/>
<line x1="459.70" y1="372.20" x2="466.30" y2="372.20" stroke="#0a0a0a" stroke-width="1.0"/>
<line x1="460.80" y1="374.90" x2="465.20" y2="374.90" stroke="#333" stroke-width="1.0"/>
<line x1="507.70" y1="372.20" x2="514.30" y2="372.20" stroke="#0a0a0a" stroke-width="1.0"/>
<line x1="508.80" y1="374.90" x2="513.20" y2="374.90" stroke="#333" stroke-width="1.0"/>
<text x="421.20" y="234.80" font-size="17" text-anchor="start" font-weight="bold" textLength="31.64" lengthAdjust="spacingAndGlyphs" >IL-6</text>
<text x="421.20" y="249.80" font-size="12.3" text-anchor="start" font-weight="normal" textLength="95.75" lengthAdjust="spacingAndGlyphs" >high-dose group</text>
<text x="421.20" y="264.40" font-size="12.3" text-anchor="start" font-weight="normal" textLength="32.67" lengthAdjust="spacingAndGlyphs" >p=NS</text>
<text x="425.00" y="423.50" font-size="12" text-anchor="middle" font-weight="normal" >time (hr)</text>
</svg>
</body></html>
